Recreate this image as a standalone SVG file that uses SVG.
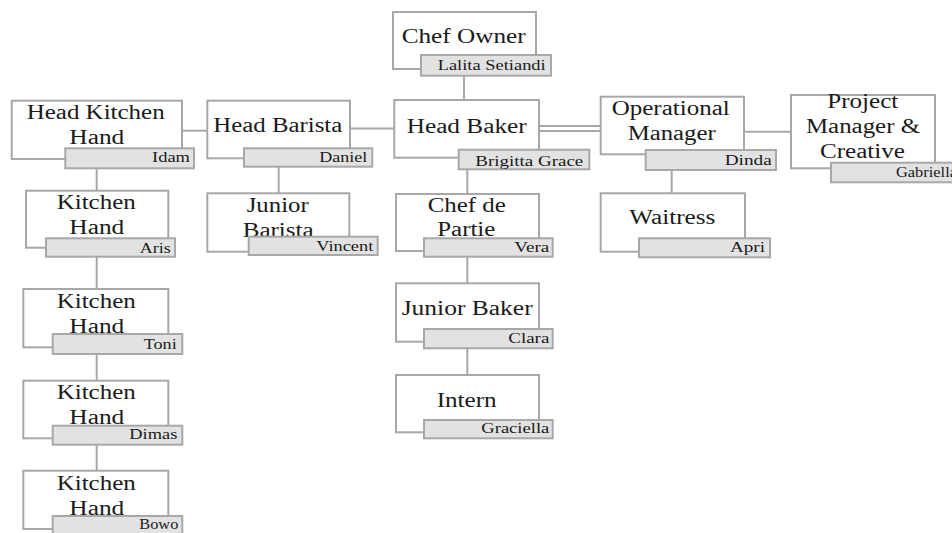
<svg xmlns="http://www.w3.org/2000/svg" width="952" height="533" viewBox="0 0 952 533">
<style>
.box{fill:#ffffff;stroke:#a8a8a8;stroke-width:2}
.tag{fill:#e2e2e2;stroke:#a8a8a8;stroke-width:2}
.t{font-family:'Liberation Serif','DejaVu Serif',serif;font-size:20px;fill:#1a1a1a}
.n{font-family:'Liberation Serif','DejaVu Serif',serif;font-size:15px;fill:#1a1a1a;text-anchor:end}
.c{stroke:#a8a8a8;stroke-width:2;fill:none}
</style>
<rect width="952" height="533" fill="#ffffff"/>
<g id="connectors">
<line class="c" x1="464" y1="75" x2="464" y2="100"/>
<line class="c" x1="350" y1="128.5" x2="394" y2="128.5"/>
<line class="c" x1="182" y1="130.7" x2="207.5" y2="130.7"/>
<line class="c" x1="539" y1="126" x2="600.7" y2="126"/>
<line class="c" x1="539" y1="131" x2="600.7" y2="131"/>
<line class="c" x1="744" y1="131.7" x2="791" y2="131.7"/>
<line class="c" x1="467.3" y1="169" x2="467.3" y2="194"/>
<line class="c" x1="467.3" y1="256.7" x2="467.3" y2="283.3"/>
<line class="c" x1="467.3" y1="348.3" x2="467.3" y2="375"/>
<line class="c" x1="278.7" y1="166.7" x2="278.7" y2="193.3"/>
<line class="c" x1="96.7" y1="168.3" x2="96.7" y2="190.7"/>
<line class="c" x1="96.7" y1="256.7" x2="96.7" y2="289"/>
<line class="c" x1="96.7" y1="354" x2="96.7" y2="380.7"/>
<line class="c" x1="96.7" y1="444.7" x2="96.7" y2="470.7"/>
<line class="c" x1="671.7" y1="170" x2="671.7" y2="193.3"/>
</g>
<g id="chef-owner">
<rect class="box" x="393" y="12" width="143" height="57"/>
<rect class="tag" x="421" y="55" width="130" height="20.7"/>
<text class="t" x="401.7" y="43.3" textLength="124" lengthAdjust="spacingAndGlyphs">Chef Owner</text>
<text class="n" x="545.7" y="70" textLength="108" lengthAdjust="spacingAndGlyphs">Lalita Setiandi</text>
</g>
<g id="head-baker">
<rect class="box" x="394.3" y="100" width="144.7" height="57.7"/>
<rect class="tag" x="458.7" y="149.7" width="130.6" height="19.6"/>
<text class="t" x="406.7" y="133" textLength="120" lengthAdjust="spacingAndGlyphs">Head Baker</text>
<text class="n" x="583.3" y="166" textLength="108" lengthAdjust="spacingAndGlyphs">Brigitta Grace</text>
</g>
<g id="head-kitchen-hand">
<rect class="box" x="11.7" y="100.7" width="170.3" height="58.3"/>
<rect class="tag" x="65.3" y="148.3" width="128.7" height="20"/>
<text class="t" x="26.7" y="119.3" textLength="138" lengthAdjust="spacingAndGlyphs">Head Kitchen</text>
<text class="t" x="69.3" y="144.3" textLength="55" lengthAdjust="spacingAndGlyphs">Hand</text>
<text class="n" x="190" y="162.3" textLength="38" lengthAdjust="spacingAndGlyphs">Idam</text>
</g>
<g id="head-barista">
<rect class="box" x="207.3" y="100.7" width="142.7" height="57.6"/>
<rect class="tag" x="244" y="148.3" width="128.3" height="18.4"/>
<text class="t" x="213.3" y="131.7" textLength="129" lengthAdjust="spacingAndGlyphs">Head Barista</text>
<text class="n" x="367.3" y="161.7" textLength="48" lengthAdjust="spacingAndGlyphs">Daniel</text>
</g>
<g id="kitchen-hand-aris">
<rect class="box" x="26" y="190.7" width="142.3" height="57"/>
<rect class="tag" x="46" y="238.3" width="129" height="18.4"/>
<text class="t" x="56.7" y="209" textLength="79" lengthAdjust="spacingAndGlyphs">Kitchen</text>
<text class="t" x="69.3" y="234.3" textLength="55" lengthAdjust="spacingAndGlyphs">Hand</text>
<text class="n" x="170.7" y="252.7" textLength="31" lengthAdjust="spacingAndGlyphs">Aris</text>
</g>
<g id="junior-barista">
<rect class="box" x="207.3" y="193.3" width="142" height="58.4"/>
<text class="t" x="246.7" y="211.7" textLength="62" lengthAdjust="spacingAndGlyphs">Junior</text>
<text class="t" x="242.7" y="236.7" textLength="71" lengthAdjust="spacingAndGlyphs">Barista</text>
<rect class="tag" x="248.7" y="236.7" width="129" height="18.3"/>
<text class="n" x="373.3" y="251" textLength="57" lengthAdjust="spacingAndGlyphs">Vincent</text>
</g>
<g id="operational-manager">
<rect class="box" x="600.7" y="96.7" width="143.3" height="57.6"/>
<rect class="tag" x="645.7" y="150" width="130.3" height="20"/>
<text class="t" x="611.7" y="115" textLength="118" lengthAdjust="spacingAndGlyphs">Operational</text>
<text class="t" x="627.7" y="140" textLength="88" lengthAdjust="spacingAndGlyphs">Manager</text>
<text class="n" x="771.7" y="165" textLength="47" lengthAdjust="spacingAndGlyphs">Dinda</text>
</g>
<g id="project-manager">
<rect class="box" x="791" y="95" width="144" height="73.3"/>
<text class="t" x="827.3" y="107.7" textLength="71" lengthAdjust="spacingAndGlyphs">Project</text>
<text class="t" x="806" y="133.3" textLength="114" lengthAdjust="spacingAndGlyphs">Manager &amp;</text>
<text class="t" x="820" y="157.7" textLength="85" lengthAdjust="spacingAndGlyphs">Creative</text>
<rect class="tag" x="831" y="162.7" width="130" height="19.6"/>
<text class="n" x="957" y="176.7" textLength="61" lengthAdjust="spacingAndGlyphs">Gabriella</text>
</g>
<g id="waitress">
<rect class="box" x="600.7" y="193.3" width="144.3" height="58.4"/>
<rect class="tag" x="639" y="238.3" width="131" height="19"/>
<text class="t" x="629.3" y="224.3" textLength="86" lengthAdjust="spacingAndGlyphs">Waitress</text>
<text class="n" x="765" y="251.7" textLength="35" lengthAdjust="spacingAndGlyphs">Apri</text>
</g>
<g id="kitchen-hand-toni">
<rect class="box" x="23.3" y="289" width="145" height="58.3"/>
<text class="t" x="56.7" y="308.3" textLength="79" lengthAdjust="spacingAndGlyphs">Kitchen</text>
<text class="t" x="69.3" y="333.3" textLength="55" lengthAdjust="spacingAndGlyphs">Hand</text>
<rect class="tag" x="52.7" y="334" width="129.6" height="20"/>
<text class="n" x="176.7" y="349" textLength="33" lengthAdjust="spacingAndGlyphs">Toni</text>
</g>
<g id="kitchen-hand-dimas">
<rect class="box" x="23.3" y="380.7" width="145" height="57.6"/>
<text class="t" x="56.7" y="399.3" textLength="79" lengthAdjust="spacingAndGlyphs">Kitchen</text>
<text class="t" x="69.3" y="424" textLength="55" lengthAdjust="spacingAndGlyphs">Hand</text>
<rect class="tag" x="52.7" y="425.7" width="129.6" height="19"/>
<text class="n" x="177.3" y="439.3" textLength="48" lengthAdjust="spacingAndGlyphs">Dimas</text>
</g>
<g id="kitchen-hand-bowo">
<rect class="box" x="23.3" y="470.7" width="145" height="58.3"/>
<text class="t" x="56.7" y="490" textLength="79" lengthAdjust="spacingAndGlyphs">Kitchen</text>
<text class="t" x="69.3" y="515" textLength="55" lengthAdjust="spacingAndGlyphs">Hand</text>
<rect class="tag" x="52.7" y="516" width="129.6" height="20"/>
<text class="n" x="178.3" y="529" textLength="39" lengthAdjust="spacingAndGlyphs">Bowo</text>
</g>
<g id="chef-de-partie">
<rect class="box" x="396" y="194" width="143" height="57"/>
<text class="t" x="427.7" y="212.3" textLength="78" lengthAdjust="spacingAndGlyphs">Chef de</text>
<text class="t" x="437.3" y="235.7" textLength="58" lengthAdjust="spacingAndGlyphs">Partie</text>
<rect class="tag" x="424" y="238.3" width="128.7" height="18.4"/>
<text class="n" x="549.3" y="251.7" textLength="35" lengthAdjust="spacingAndGlyphs">Vera</text>
</g>
<g id="junior-baker">
<rect class="box" x="396" y="283.3" width="143" height="58.4"/>
<rect class="tag" x="424" y="329" width="128.7" height="19.3"/>
<text class="t" x="401.7" y="315" textLength="131" lengthAdjust="spacingAndGlyphs">Junior Baker</text>
<text class="n" x="549.3" y="343.3" textLength="41" lengthAdjust="spacingAndGlyphs">Clara</text>
</g>
<g id="intern">
<rect class="box" x="396" y="375" width="143" height="57.3"/>
<rect class="tag" x="424" y="420" width="128.7" height="18.3"/>
<text class="t" x="436.7" y="406.7" textLength="60" lengthAdjust="spacingAndGlyphs">Intern</text>
<text class="n" x="549.3" y="433.3" textLength="68" lengthAdjust="spacingAndGlyphs">Graciella</text>
</g>
</svg>
